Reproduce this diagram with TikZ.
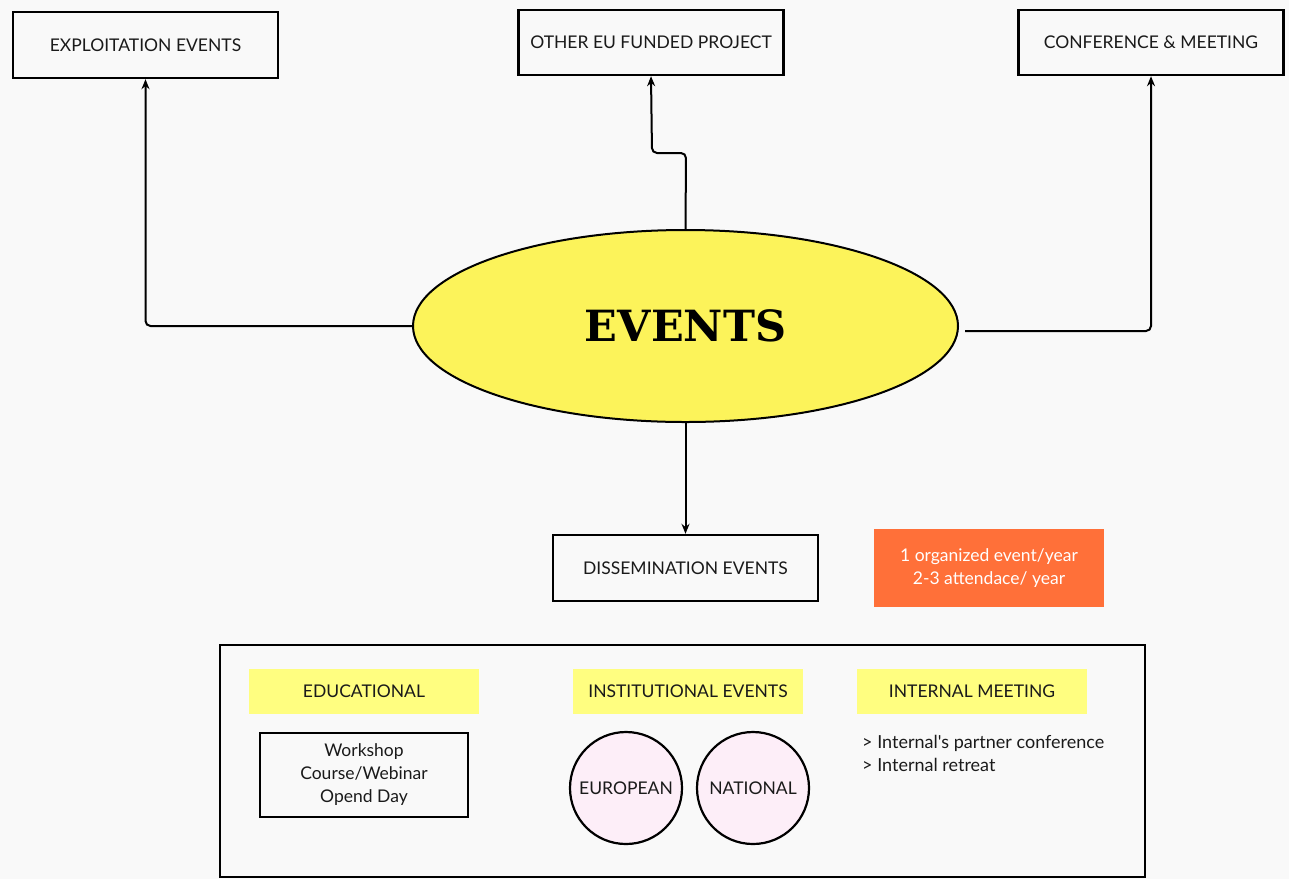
\documentclass[tikz,border=0pt]{standalone}
\usepackage{fontspec}
\setmainfont{Lato}
\newfontfamily\slabfont{DejaVu Serif}
\usetikzlibrary{shapes.geometric,arrows.meta}
\definecolor{bgc}{HTML}{F9F9F9}
\definecolor{evy}{HTML}{FCF35A}
\definecolor{laby}{HTML}{FFFE80}
\definecolor{orng}{HTML}{FF7039}
\definecolor{pnk}{HTML}{FDEEF8}
\definecolor{txt}{HTML}{1A1A1A}
\tikzset{
  box/.style={draw=black,line width=2.4pt,fill=bgc,inner sep=0pt,minimum width=265pt,minimum height=66pt,font=\fontsize{17.5}{20}\selectfont,text=txt},
  lab/.style={fill=laby,inner sep=0pt,minimum width=230pt,minimum height=45pt,font=\fontsize{17.5}{20}\selectfont,text=txt},
  circ/.style={draw=black,line width=2.2pt,fill=pnk,circle,minimum size=112pt,inner sep=0pt,font=\fontsize{17.5}{20}\selectfont,text=txt},
  arr/.style={line width=2pt,-{Stealth[length=10pt,width=8pt]},rounded corners=5pt},
}
\begin{document}
\begin{tikzpicture}[x=1pt,y=-1pt]
\useasboundingbox (0,0) rectangle (1289,879);
\fill[bgc] (0,0) rectangle (1289,879);
% top boxes
\node[box] (exp) at (145.5,45) {EXPLOITATION EVENTS};
\node[box,minimum height=65pt] (oeu) at (651,42.5) {OTHER EU FUNDED PROJECT};
\node[box,minimum height=65pt] (conf) at (1151,42.5) {CONFERENCE \& MEETING};
% central ellipse
\node[ellipse,draw=black,line width=2pt,fill=evy,minimum width=545pt,minimum height=192pt,inner sep=0pt,font=\slabfont\bfseries\fontsize{43}{46}\selectfont] (ev) at (685.5,326) {EVENTS};
% dissemination
\node[box] (dis) at (685.5,568) {DISSEMINATION EVENTS};
\node[fill=orng,inner sep=0pt,minimum width=230pt,minimum height=78pt,align=center,text=white,font=\fontsize{17.5}{23}\selectfont] (org) at (989,568) {1 organized event/year\\2-3 attendace/ year};
% connectors
\coordinate (m1) at (686,153);
\coordinate (m2) at (652,153);
\coordinate (c1) at (965,331);
\draw[arr] (ev.west) -| (exp.south);
\draw[arr] (ev.north) -- (m1) -- (m2) -- (oeu.south);
\draw[arr] (c1) -| (conf.south);
\draw[arr] (ev.south) -- (dis.north);
% bottom container
\node[draw=black,line width=2.2pt,fill=bgc,minimum width=925pt,minimum height=232pt,inner sep=0pt] (cont) at (682.5,761) {};
\node[lab] (edu) at (364,691.5) {EDUCATIONAL};
\node[lab] (inst) at (688,691.5) {INSTITUTIONAL EVENTS};
\node[lab] (intm) at (972,691.5) {INTERNAL MEETING};
\node[draw=black,line width=2.2pt,fill=bgc,minimum width=208pt,minimum height=84pt,inner sep=0pt,align=center,text=txt,font=\fontsize{17.5}{23}\selectfont] (ws) at (364,775) {Workshop\\Course/Webinar\\Opend Day};
\node[circ] (eu) at (626,788) {EUROPEAN};
\node[circ] (nat) at (753,788) {NATIONAL};
\node[anchor=north west,align=left,inner sep=0pt,text=txt,font=\fontsize{18}{23}\selectfont] (intl) at (862,735) {> Internal\textquotesingle s partner conference\\> Internal retreat};
\end{tikzpicture}
\end{document}
